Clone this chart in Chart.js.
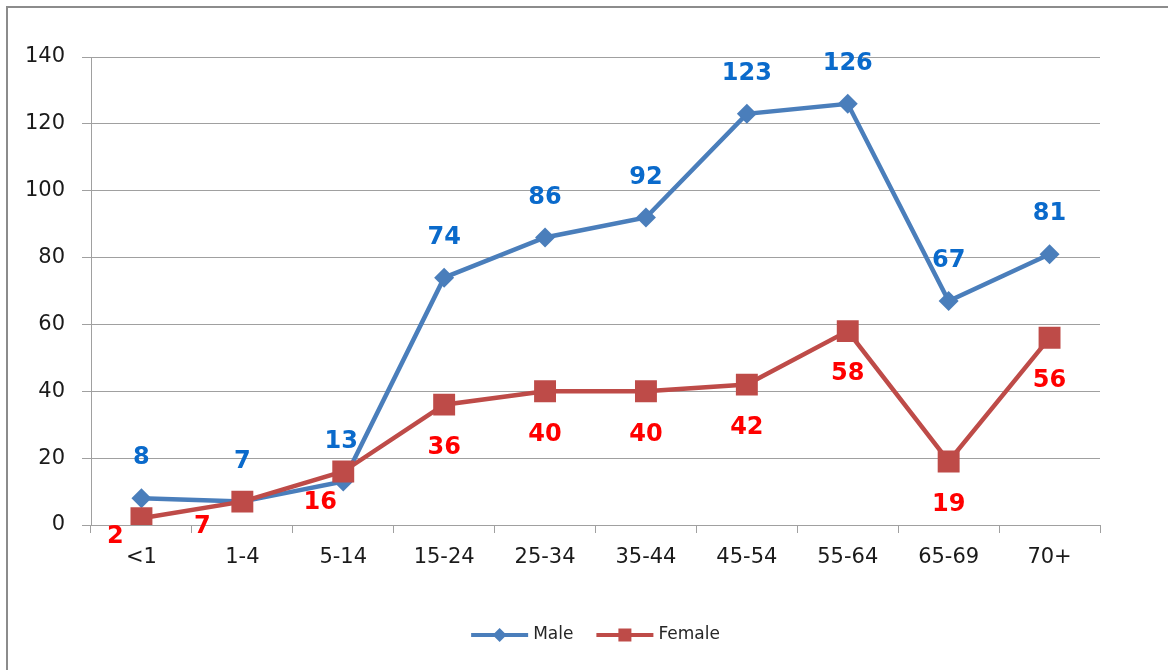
<!DOCTYPE html>
<html lang="en">
<head>
    <meta charset="UTF-8">
    <title>Cases by age group - Male vs Female</title>
    <style>
        body {
            margin: 0;
            padding: 0;
            background: #fff;
            overflow: hidden;
        }

        .frame {
            position: absolute;
            left: 6px;
            top: 6px;
            width: 1200px;
            height: 700px;
            border: 2px solid #8c8c8c;
        }

        .chart-box {
            position: absolute;
            left: 0;
            top: 0;
            width: 1168px;
            height: 670px;
        }
    </style>
</head>
<body>

<div class="frame"></div>
<div class="chart-box">
    <canvas id="ageChart"></canvas>
</div>

<script src="https://cdn.jsdelivr.net/npm/chart.js"></script>

<script>
    const ageGroups = ['<1', '1-4', '5-14', '15-24', '25-34', '35-44', '45-54', '55-64', '65-69', '70+'];
    const maleCases = [8, 7, 13, 74, 86, 92, 123, 126, 67, 81];
    const femaleCases = [2, 7, 16, 36, 40, 40, 42, 58, 19, 56];
    const yTicks = [0, 20, 40, 60, 80, 100, 120, 140];

    const tickFont = { family: 'DejaVu Sans', size: 21 };

    // value labels drawn next to each point (no datalabels plugin offline)
    const valueLabels = {
        id: 'valueLabels',
        afterDatasetsDraw(chart) {
            const ctx = chart.ctx;
            ctx.save();
            ctx.font = 'bold 24px "DejaVu Sans"';
            ctx.textAlign = 'center';
            ctx.textBaseline = 'middle';
            chart.data.datasets.forEach((ds, i) => {
                const meta = chart.getDatasetMeta(i);
                meta.data.forEach((pt, j) => {
                    const off = ds.labelOffset(j);
                    ctx.fillStyle = ds.labelColor;
                    ctx.fillText(ds.data[j], pt.x + off[0], pt.y + off[1]);
                });
            });
            ctx.restore();
        }
    };

    // legend with line + marker sample, like the office style
    const lineLegend = {
        id: 'lineLegend',
        afterDraw(chart) {
            const ctx = chart.ctx;
            const area = chart.chartArea;
            const y = 635;
            const sample = 57;
            ctx.save();
            ctx.font = '17px "DejaVu Sans"';
            ctx.textBaseline = 'middle';
            const items = chart.data.datasets;
            let total = 0;
            items.forEach((ds, i) => {
                total += sample + 5 + ctx.measureText(ds.label).width + (i < items.length - 1 ? 23 : 0);
            });
            let x = (area.left + area.right) / 2 - total / 2;
            items.forEach((ds, i) => {
                ctx.strokeStyle = ds.borderColor;
                ctx.lineWidth = 4;
                ctx.beginPath();
                ctx.moveTo(x, y);
                ctx.lineTo(x + sample, y);
                ctx.stroke();
                const cx = x + sample / 2;
                ctx.fillStyle = ds.backgroundColor;
                ctx.beginPath();
                if (ds.pointStyle === 'rectRot') {
                    ctx.moveTo(cx - 7, y);
                    ctx.lineTo(cx, y - 7);
                    ctx.lineTo(cx + 7, y);
                    ctx.lineTo(cx, y + 7);
                    ctx.closePath();
                } else {
                    ctx.rect(cx - 6.5, y - 6.5, 13, 13);
                }
                ctx.fill();
                ctx.fillStyle = '#262626';
                ctx.fillText(ds.label, x + sample + 5, y);
                x += sample + 5 + ctx.measureText(ds.label).width + 23;
            });
            ctx.restore();
        }
    };

    const femaleShift = [[-26, 18], [-40, 25], [-23, 31]];

    const ctx = document.getElementById('ageChart').getContext('2d');
    const chart = new Chart(ctx, {
        type: 'line',
        data: {
            labels: ageGroups,
            datasets: [
                {
                    label: 'Male',
                    data: maleCases,
                    borderColor: '#4a7ebb',
                    backgroundColor: '#4a7ebb',
                    borderWidth: 4.5,
                    pointStyle: 'rectRot',
                    pointRadius: 10,
                    pointBorderWidth: 0,
                    tension: 0,
                    order: 1,
                    labelColor: '#0a6acb',
                    labelOffset: j => [j === 2 ? -2 : 0, -40]
                },
                {
                    label: 'Female',
                    data: femaleCases,
                    borderColor: '#be4b48',
                    backgroundColor: '#be4b48',
                    borderWidth: 4.5,
                    pointStyle: 'rect',
                    pointRadius: 15.5,
                    pointBorderWidth: 0,
                    tension: 0,
                    order: 0,
                    labelColor: '#ff0000',
                    labelOffset: j => femaleShift[j] || [0, 43]
                }
            ]
        },
        options: {
            responsive: true,
            maintainAspectRatio: false,
            animation: false,
            layout: {
                padding: { top: 57, right: 68, bottom: 0, left: 0 }
            },
            plugins: {
                legend: { display: false },
                tooltip: { enabled: false }
            },
            scales: {
                x: {
                    offset: true,
                    grid: {
                        offset: true,
                        drawOnChartArea: false,
                        tickLength: 8,
                        color: '#a0a0a0'
                    },
                    border: { color: '#a0a0a0' },
                    ticks: {
                        font: tickFont,
                        color: '#1a1a1a',
                        padding: 12,
                        maxRotation: 0
                    },
                    afterFit(scale) { scale.height = 145; }
                },
                y: {
                    min: 0,
                    max: 140,
                    afterBuildTicks(scale) {
                        scale.ticks = yTicks.map(v => ({ value: v }));
                    },
                    grid: {
                        color: '#a0a0a0',
                        tickLength: 9
                    },
                    border: { color: '#a0a0a0' },
                    ticks: {
                        font: tickFont,
                        color: '#1a1a1a',
                        padding: 17
                    },
                    afterFit(scale) { scale.width = 91; }
                }
            }
        },
        plugins: [valueLabels, lineLegend]
    });
</script>

</body>
</html>
